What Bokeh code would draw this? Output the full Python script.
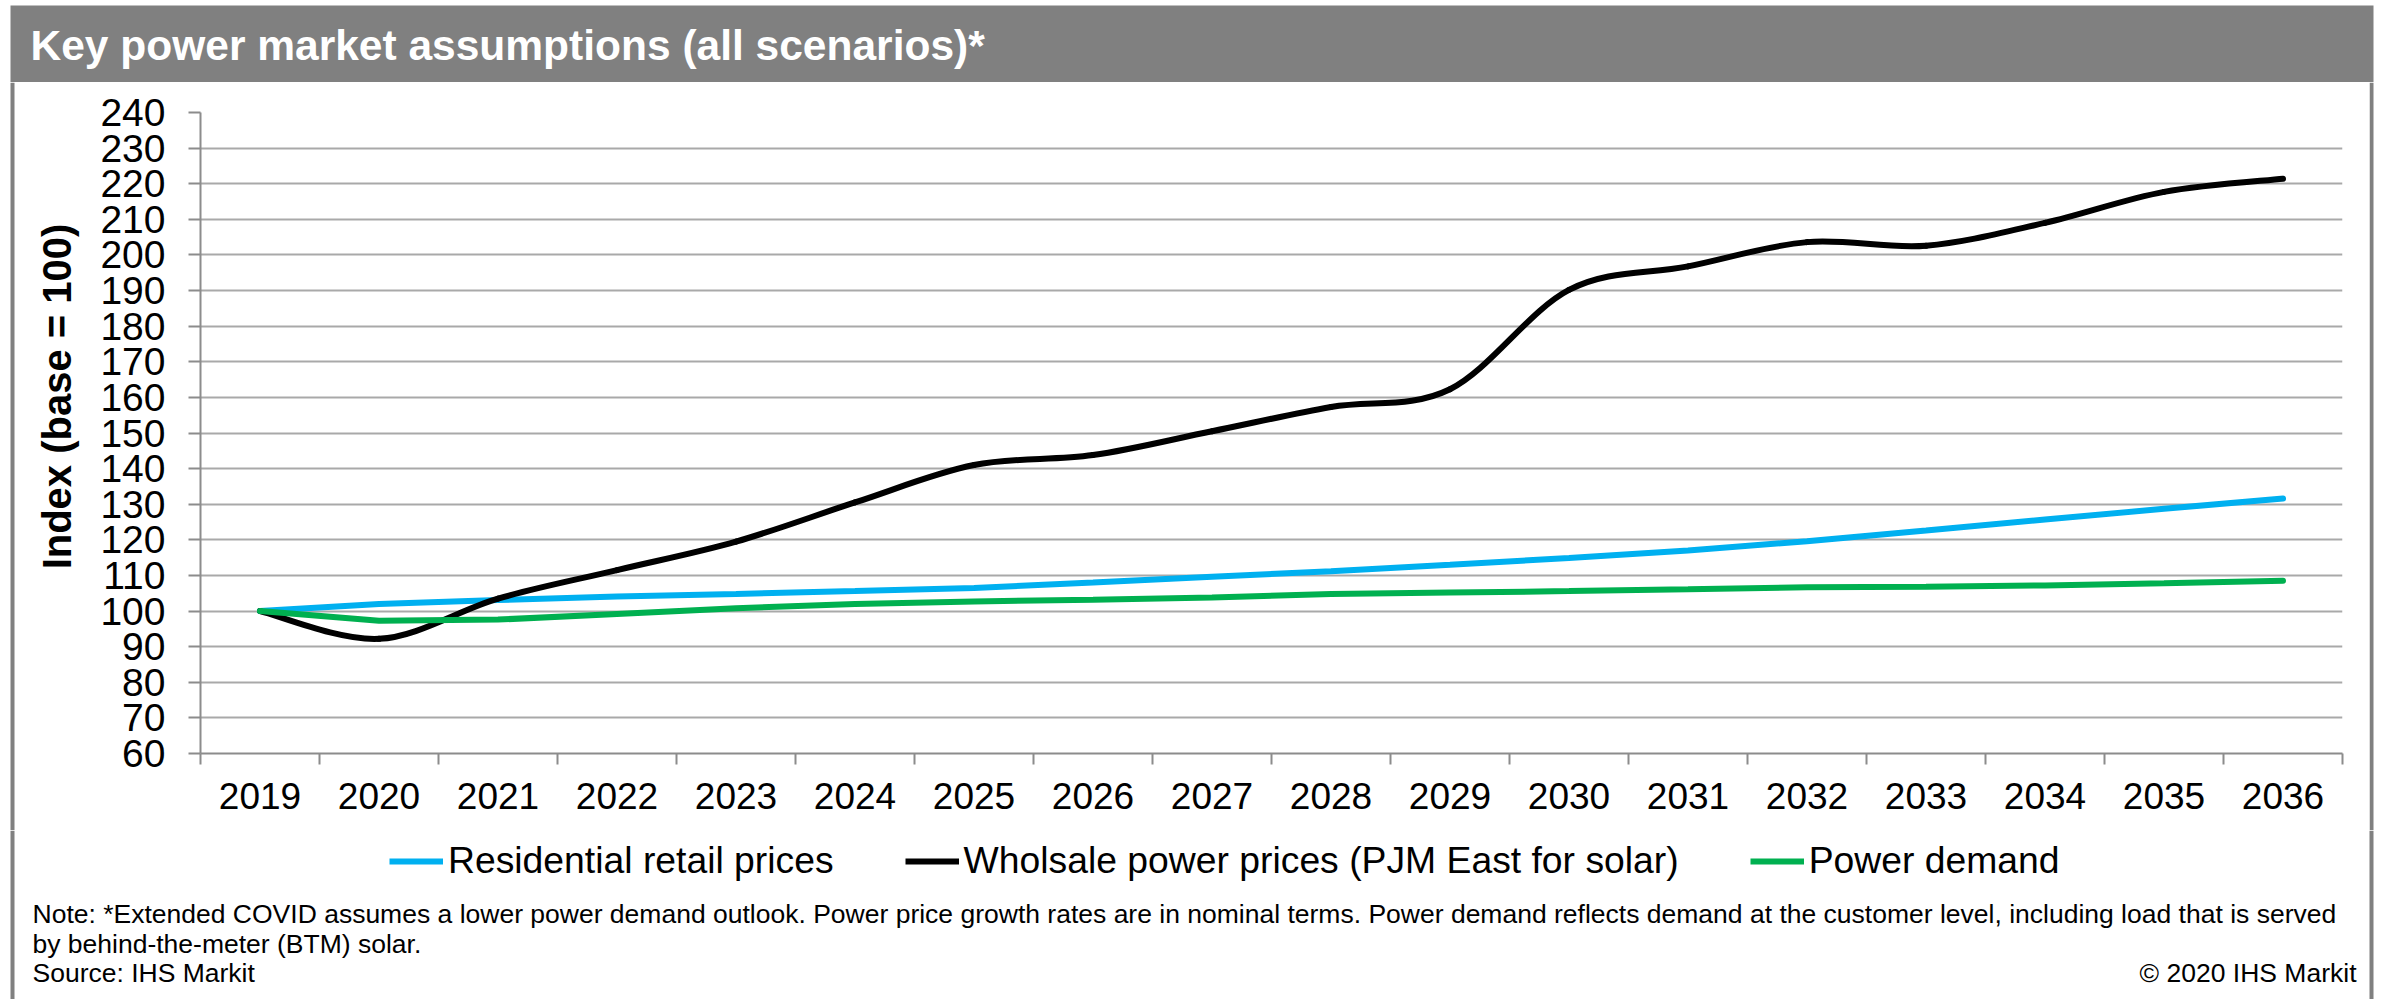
import numpy as np
from bokeh.plotting import figure
from bokeh.layouts import column, row
from bokeh.models import (Range1d, FixedTicker, Label, BoxAnnotation, Legend, LegendItem)
from bokeh.embed import file_html
from bokeh.resources import INLINE

# ---------------- data ----------------
years = [2019, 2020, 2021, 2022, 2023, 2024, 2025, 2026, 2027,
         2028, 2029, 2030, 2031, 2032, 2033, 2034, 2035, 2036]
year_labels = [str(y) for y in years]
residential = [100.0, 102.0, 103.1, 104.1, 104.8, 105.6, 106.5, 108.0, 109.6,
               111.2, 113.0, 114.9, 117.0, 119.6, 122.6, 125.7, 128.7, 131.6]
wholesale = [100.0, 92.2, 103.5, 111.5, 119.5, 130.5, 141.0, 143.8, 150.5,
             157.3, 162.3, 190.2, 196.8, 203.6, 202.6, 209.0, 217.7, 221.4]
demand = [100.0, 97.3, 97.6, 99.2, 100.8, 102.0, 102.7, 103.2, 103.8,
          104.8, 105.2, 105.6, 106.1, 106.7, 106.8, 107.2, 107.8, 108.5]
y_ticks = list(range(60, 241, 10))
series_names = ["Residential retail prices",
                "Wholsale power prices (PJM East for solar)",
                "Power demand"]
title_text = "Key power market assumptions (all scenarios)*"
y_title = "Index (base = 100)"
note_1 = ("Note: *Extended COVID assumes a lower power demand outlook. Power price growth rates "
          "are in nominal terms. Power demand reflects demand at the customer level, including load that is served")
note_2 = "by behind-the-meter (BTM) solar."
source = "Source: IHS Markit"
copyright_text = "\u00a9 2020 IHS Markit"

# ---------------- layout constants (page px) ----------------
W, H = 2382, 999
HEAD_H = 82            # header band height
FOOT_Y = 830           # top of footer block (legend + notes)
MID_H = FOOT_Y - HEAD_H
STRIP_L = 90           # left strip (frame border + y title)
MAIN_R = 2369          # right edge of main chart figure
FL, FR, FT, FB = 200, 2342, 112, 753      # plot frame edges
FONT = "Liberation Sans"
GREY = "#808080"
AXIS = "#8C8C8C"
GRID = "#A9A9A9"
BLUE, BLACK, GREEN = "#00B0F0", "#000000", "#00B050"
LW = 6


def no_align(f):
    if "frame_align" in f.properties():
        f.frame_align = False
    return f


def blank(width, height, x0, y0):
    """A figure whose frame fills its canvas; coordinates are pixels of the page."""
    f = figure(width=width, height=height, output_backend="svg", toolbar_location=None,
               x_range=Range1d(x0, x0 + width), y_range=Range1d(y0 + height, y0),
               x_axis_type=None, y_axis_type=None,
               min_border=0, min_border_left=0, min_border_right=0,
               min_border_top=0, min_border_bottom=0)
    f.outline_line_color = None
    f.background_fill_color = "white"
    f.border_fill_color = "white"
    return no_align(f)


def grey_box(f, left, right, top, bottom):
    f.add_layout(BoxAnnotation(left=left, right=right, top=top, bottom=bottom,
                               fill_color=GREY, fill_alpha=1, line_color=None))


def text(f, x, y, s, size, **kw):
    # y is the vertical centre of the text line
    f.add_layout(Label(x=x, y=y, text=s, text_font=FONT, text_font_size=size,
                       text_baseline="middle", **kw))


# ---------------- header ----------------
head = blank(W, HEAD_H, 0, 0)
grey_box(head, 10, 2373, 5, HEAD_H)
text(head, 30, 45, title_text, "42.5px", text_font_style="bold", text_color="white")

# ---------------- left strip with y-axis title ----------------
left = blank(STRIP_L, MID_H, 0, HEAD_H)
grey_box(left, 10, 14, HEAD_H, FOOT_Y)
text(left, 56, 396, y_title, "40px", text_font_style="bold", text_color="black",
     angle=np.pi / 2, text_align="center")

# ---------------- right strip ----------------
right = blank(W - MAIN_R, MID_H, MAIN_R, HEAD_H)
grey_box(right, MAIN_R, MAIN_R + 4, HEAD_H, FOOT_Y)

# ---------------- main chart ----------------
p = figure(width=MAIN_R - STRIP_L, height=MID_H, output_backend="svg", toolbar_location=None,
           x_range=Range1d(years[0] - 0.5, years[-1] + 0.5),
           y_range=Range1d(y_ticks[0], y_ticks[-1]),
           min_border_left=FL - STRIP_L, min_border_right=MAIN_R - FR,
           min_border_top=FT - HEAD_H, min_border_bottom=FOOT_Y - FB)
no_align(p)
p.outline_line_color = None
p.background_fill_color = "white"
p.border_fill_color = "white"

bounds = [y - 0.5 for y in years] + [years[-1] + 0.5]
p.xaxis.ticker = FixedTicker(ticks=years, minor_ticks=bounds)
p.xaxis.major_label_overrides = {y: s for y, s in zip(years, year_labels)}
p.xaxis.major_tick_out = 0
p.xaxis.major_tick_in = 0
p.xaxis.minor_tick_out = 11
p.xaxis.minor_tick_in = 0
p.xaxis.minor_tick_line_color = AXIS
p.xaxis.minor_tick_line_width = 2
p.xaxis.axis_line_color = AXIS
p.xaxis.axis_line_width = 2
p.xaxis.major_label_standoff = 18
p.xaxis.major_label_text_font = FONT
p.xaxis.major_label_text_font_size = "37px"
p.xaxis.major_label_text_color = "black"

p.yaxis.ticker = FixedTicker(ticks=y_ticks)
p.yaxis.major_tick_out = 12
p.yaxis.major_tick_in = 0
p.yaxis.minor_tick_out = 0
p.yaxis.minor_tick_in = 0
p.yaxis.major_tick_line_color = AXIS
p.yaxis.major_tick_line_width = 2
p.yaxis.axis_line_color = AXIS
p.yaxis.axis_line_width = 2
p.yaxis.major_label_standoff = 23
p.yaxis.major_label_text_font = FONT
p.yaxis.major_label_text_font_size = "39px"
p.yaxis.major_label_text_color = "black"

p.xgrid.visible = False
p.ygrid.grid_line_color = GRID
p.ygrid.grid_line_width = 2

p.line(years, residential, line_color=BLUE, line_width=LW, line_cap="round")

# smoothed (Excel-style) curve for the wholesale series, drawn as Bezier segments
x = np.array(years, dtype=float)
y = np.array(wholesale, dtype=float)
n = len(x)
qx = np.concatenate([[x[0]], x, [x[-1]]])
qy = np.concatenate([[y[0]], y, [y[-1]]])
cx0 = qx[1:n] + (qx[2:n + 1] - qx[0:n - 1]) / 6.0
cy0 = qy[1:n] + (qy[2:n + 1] - qy[0:n - 1]) / 6.0
cx1 = qx[2:n + 1] - (qx[3:n + 2] - qx[1:n]) / 6.0
cy1 = qy[2:n + 1] - (qy[3:n + 2] - qy[1:n]) / 6.0
p.bezier(x0=x[:-1], y0=y[:-1], x1=x[1:], y1=y[1:],
         cx0=cx0, cy0=cy0, cx1=cx1, cy1=cy1,
         line_color=BLACK, line_width=LW, line_cap="round")

p.line(years, demand, line_color=GREEN, line_width=LW, line_cap="round")

# ---------------- footer: legend, notes, frame sides ----------------
foot = blank(W, H - FOOT_Y, 0, FOOT_Y)
grey_box(foot, 10, 14, FOOT_Y, H)
grey_box(foot, 2369, 2373, FOOT_Y, H)

# legend swatches share the series' line styles (no points of their own are drawn)
sw = [foot.line(x=[np.nan], y=[np.nan], line_color=c, line_width=LW)
      for c in (BLUE, BLACK, GREEN)]
legend = Legend(items=[LegendItem(label=s, renderers=[r]) for s, r in zip(series_names, sw)],
                orientation="horizontal", location=(389, 117),
                glyph_width=54, glyph_height=30, label_standoff=5, spacing=71,
                padding=0, margin=0, border_line_color=None, background_fill_alpha=0,
                label_text_font=FONT, label_text_font_size="37.3px", label_text_color="black")
foot.add_layout(legend, "center")

for txt, yc in [(note_1, 913), (note_2, 943), (source, 972)]:
    text(foot, 32, yc, txt, "26.5px", text_color="black")
text(foot, 2356, 972, copyright_text, "26.5px", text_color="black", text_align="right")

layout = column(head, row(left, p, right, spacing=0), foot, spacing=0)

with open("out.html", "w", encoding="utf-8") as f:
    f.write(file_html(layout, INLINE))
